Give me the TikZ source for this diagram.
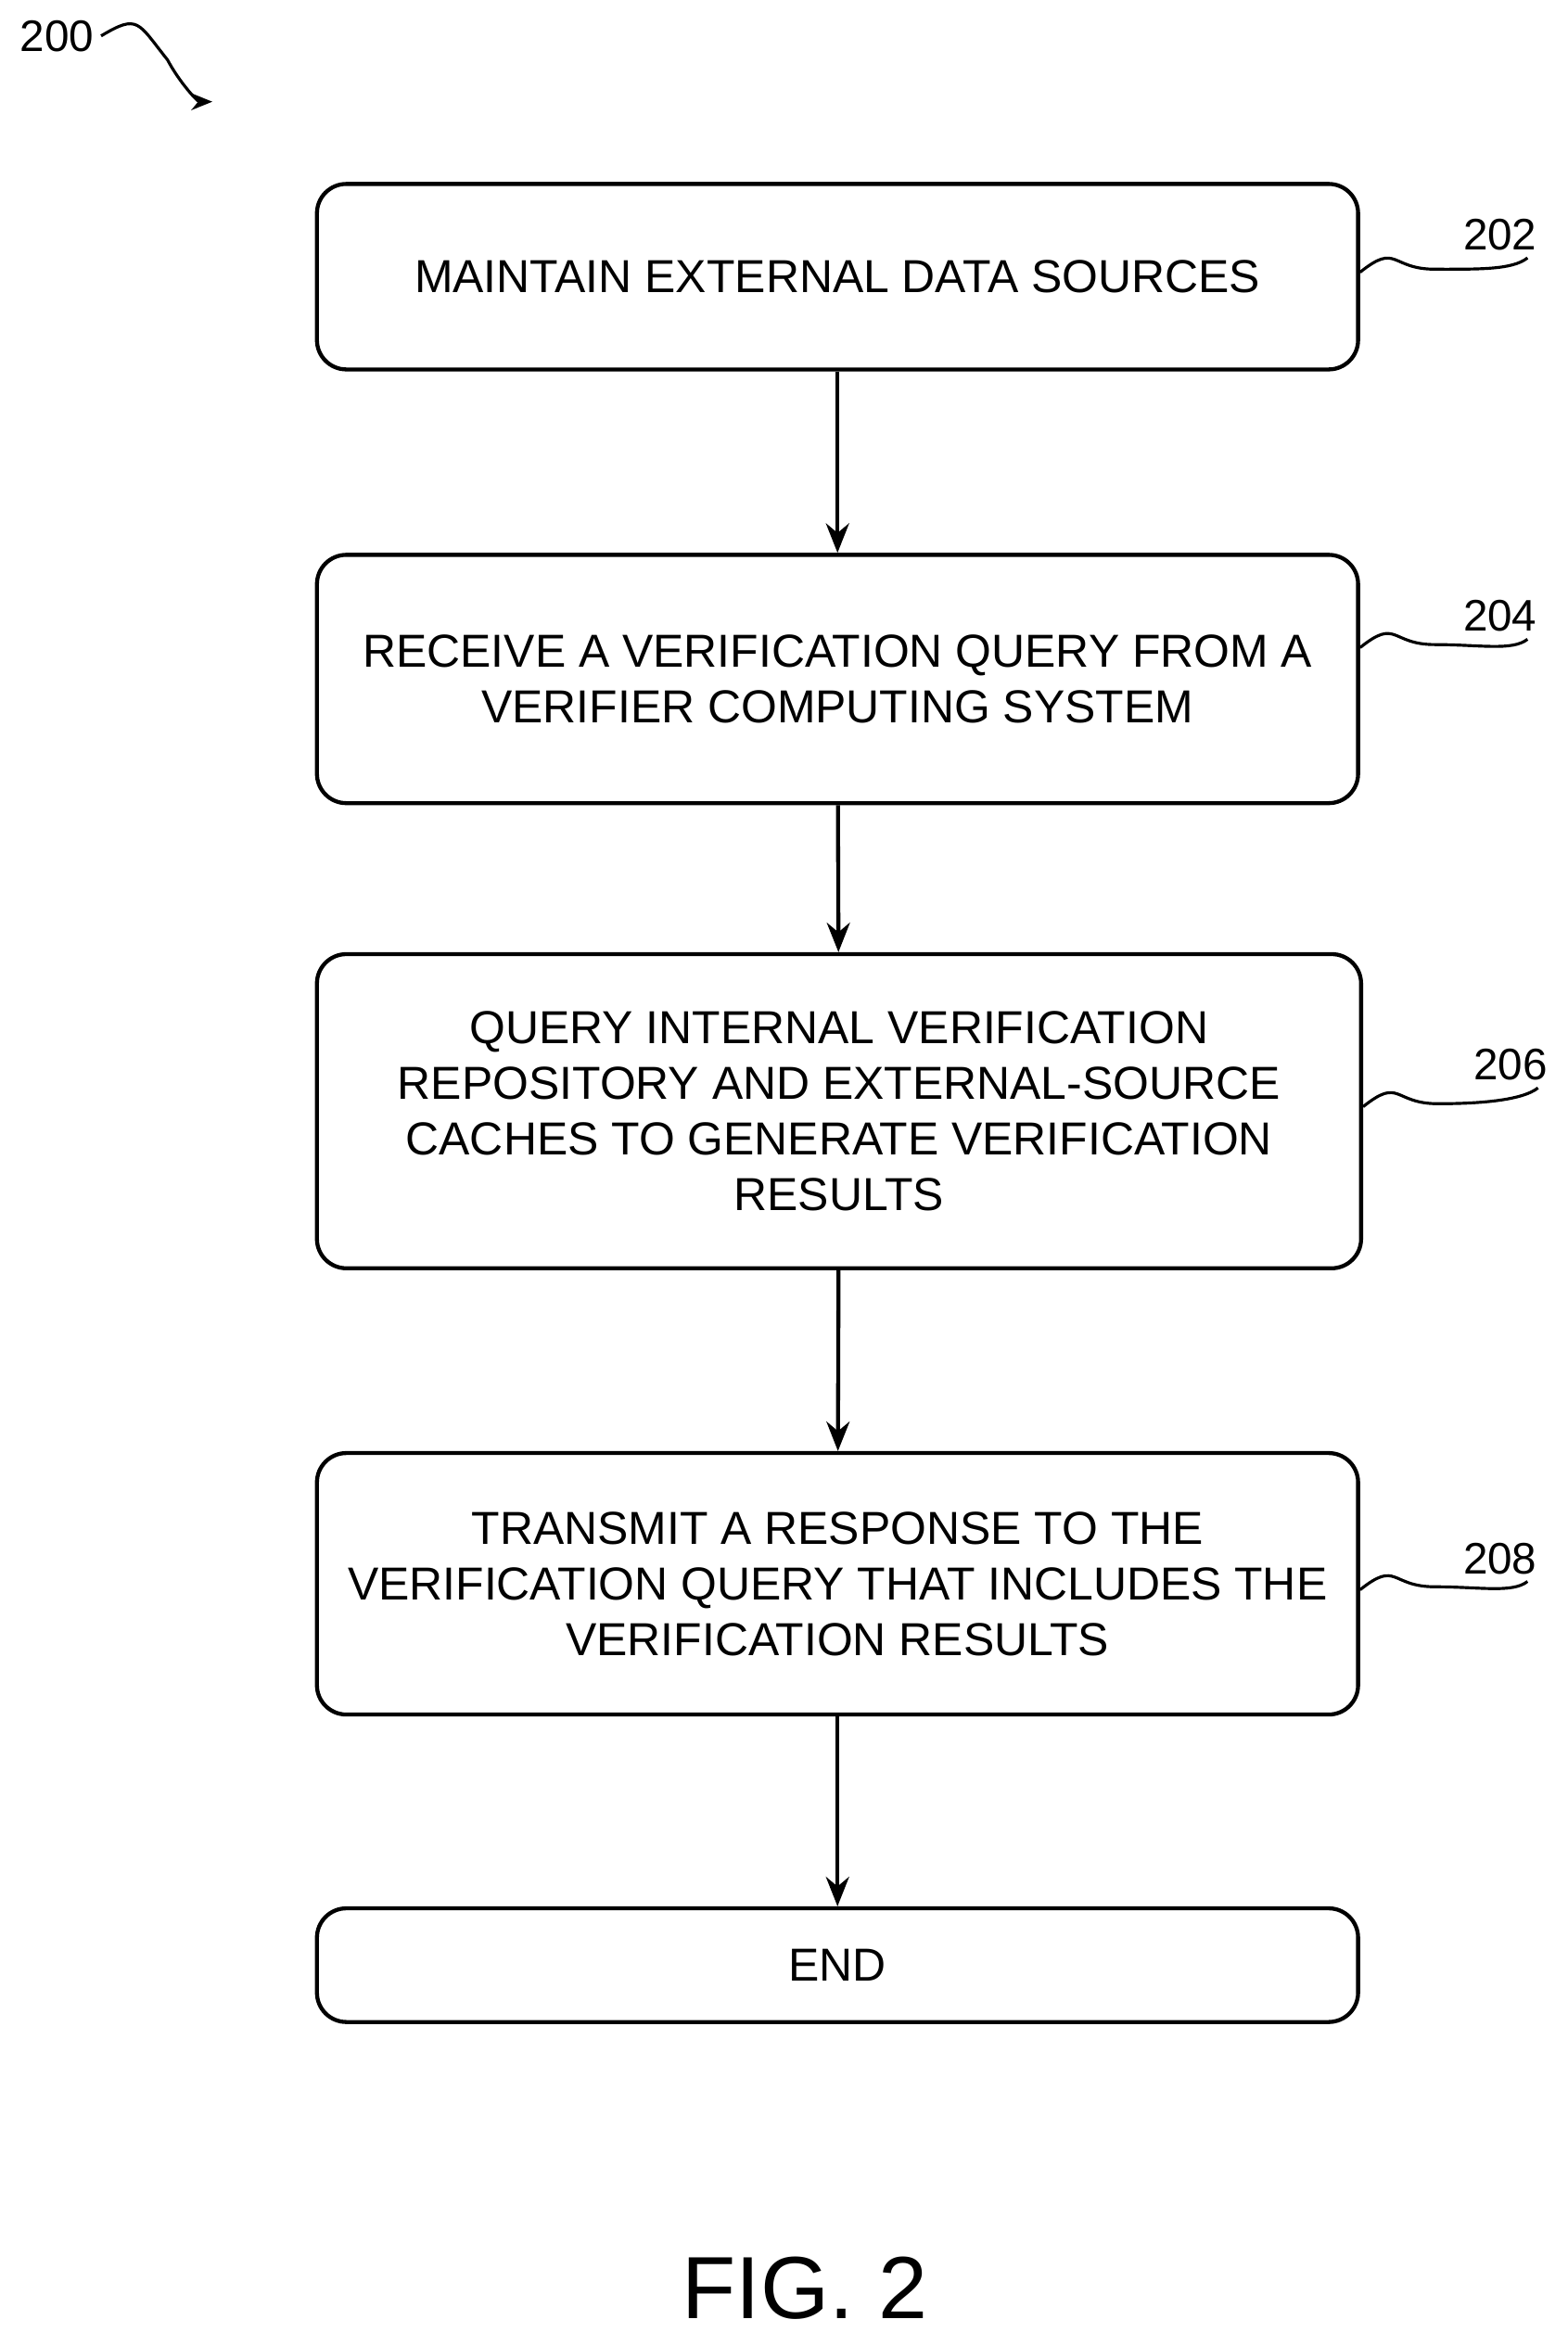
\documentclass[tikz,border=0pt]{standalone}
\usepackage{fontspec}
\setmainfont{Liberation Sans}
\usetikzlibrary{arrows.meta}
\begin{document}
\begin{tikzpicture}[x=0.025cm,y=-0.025cm,
  stepbox/.style={draw,line width=1.9pt,rounded corners=14pt,align=center,
    font=\fontsize{22}{26.5}\selectfont,inner sep=0pt},
  flow/.style={line width=1.9pt,-{Stealth[length=14pt,width=11pt]}},
  ref/.style={font=\fontsize{21}{24}\selectfont}]
\useasboundingbox (0,0) rectangle (1048,1568);
% steps
\node[stepbox,minimum width=17.4cm,minimum height=3.1cm] (s202) at (560,185) {MAINTAIN EXTERNAL DATA SOURCES};
\node[stepbox,minimum width=17.4cm,minimum height=4.15cm] (s204) at (560,454) {RECEIVE A VERIFICATION QUERY FROM A\\VERIFIER COMPUTING SYSTEM};
\node[stepbox,minimum width=17.45cm,minimum height=5.25cm] (s206) at (561,743) {QUERY INTERNAL VERIFICATION\\REPOSITORY AND EXTERNAL-SOURCE\\CACHES TO GENERATE VERIFICATION\\RESULTS};
\node[stepbox,minimum width=17.4cm,minimum height=4.37cm] (s208) at (560,1059) {TRANSMIT A RESPONSE TO THE\\VERIFICATION QUERY THAT INCLUDES THE\\VERIFICATION RESULTS};
\node[stepbox,minimum width=17.4cm,minimum height=1.9cm] (end) at (560,1314) {END};
%
\draw[flow] (s202) -- (s204);
\draw[flow] (s204) -- (s206);
\draw[flow] (s206) -- (s208);
\draw[flow] (s208) -- (end);
% reference numerals
\node[ref] (n202) at (1003,157) {202};
\node[ref] (n204) at (1003,412) {204};
\node[ref] (n206) at (1010,712) {206};
\node[ref] (n208) at (1003,1042) {208};
\node[ref] (n200) at (38,24) {200};
\foreach \n/\y in {202/182,204/433,206/740,208/1063}
  \draw[line width=1.4pt] (s\n.east |- 0,\y) .. controls +(25,-20) and +(-30,0) .. ++(50,-2) .. controls +(30,0) and +(-10,8) .. ([xshift=-8pt]n\n.south east);
\draw[line width=1.4pt,-{Stealth[length=10pt,width=8pt]}] (n200.east) .. controls +(25,-15) and +(-20,-25) .. (112,40) .. controls +(8,15) and +(-10,0) .. (142,68);
\node[font=\fontsize{42}{48}\selectfont] (fig) at (538,1530) {FIG. 2};
\end{tikzpicture}
\end{document}
